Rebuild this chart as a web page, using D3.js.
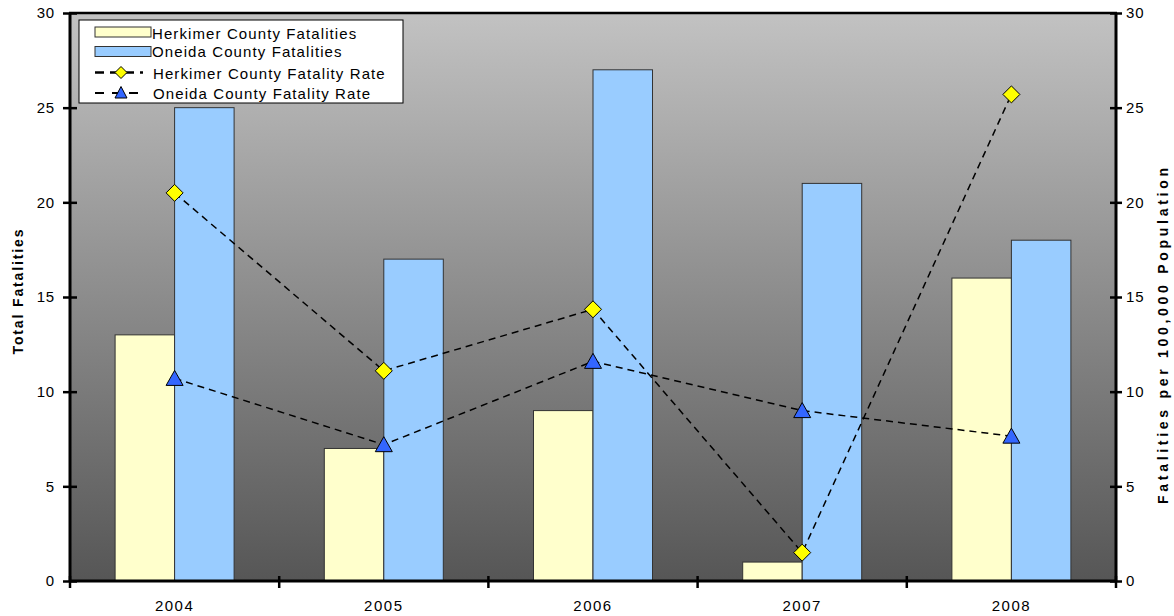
<!DOCTYPE html>
<html><head><meta charset="utf-8">
<script src="https://cdn.jsdelivr.net/npm/d3@7"></script>
<style>body{margin:0;background:#fff;}svg{display:block;font-family:"Liberation Sans",Arial,sans-serif;}</style>
</head><body><svg id="c" width="1174" height="616"></svg>
<script>
const years = ["2004","2005","2006","2007","2008"];
const herkimerFatalities = [13, 7, 9, 1, 16];
const oneidaFatalities = [25, 17, 27, 21, 18];
const herkimerRate = [20.5, 11.1, 14.35, 1.5, 25.7];
const oneidaRate = [10.7, 7.2, 11.6, 9.0, 7.65];
const yTicks = [0, 5, 10, 15, 20, 25, 30];
const seriesNames = ["Herkimer County Fatalities","Oneida County Fatalities","Herkimer County Fatality Rate","Oneida County Fatality Rate"];

const svg = d3.select("#c");
const L = 70, R = 1116, T = 13, B = 581;
const x = d3.scaleBand().domain(years).range([L, R]).paddingInner(0).paddingOuter(0);
const bw = 59.5;
const xs = d3.scaleBand().domain(["h","o"]).range([(x.bandwidth()-2*bw)/2, (x.bandwidth()+2*bw)/2]);
const y = d3.scaleLinear().domain([0,30]).range([B, T]);
const y2 = d3.scaleLinear().domain([0,30]).range([B, T]);

const defs = svg.append("defs");
const g = defs.append("linearGradient").attr("id","bg").attr("x1",0).attr("x2",0).attr("y1",0).attr("y2",1);
g.append("stop").attr("offset","0%").attr("stop-color","#c2c2c2");
g.append("stop").attr("offset","100%").attr("stop-color","#565656");
svg.append("rect").attr("x",L).attr("y",T).attr("width",R-L).attr("height",B-T).attr("fill","url(#bg)");

// bars
const bars = svg.append("g");
years.forEach((yr,i)=>{
  bars.append("rect").attr("x",x(yr)+xs("h")).attr("y",y(herkimerFatalities[i])).attr("width",xs.bandwidth()).attr("height",B-y(herkimerFatalities[i]))
    .attr("fill","#ffffcc").attr("stroke","#333").attr("stroke-width",1);
  bars.append("rect").attr("x",x(yr)+xs("o")).attr("y",y(oneidaFatalities[i])).attr("width",xs.bandwidth()).attr("height",B-y(oneidaFatalities[i]))
    .attr("fill","#99ccff").attr("stroke","#333").attr("stroke-width",1);
});

// lines
const cx = yr => x(yr) + x.bandwidth()/2;
const line = d3.line().x(d=>cx(d[0])).y(d=>y2(d[1]));
svg.append("path").datum(years.map((yr,i)=>[yr,oneidaRate[i]])).attr("d",line).attr("fill","none").attr("stroke","#000").attr("stroke-width",1.5).attr("stroke-dasharray","7,5");
svg.append("path").datum(years.map((yr,i)=>[yr,herkimerRate[i]])).attr("d",line).attr("fill","none").attr("stroke","#000").attr("stroke-width",1.5).attr("stroke-dasharray","7,5");

const diamond = (px,py,s) => `M${px},${py-s}L${px+s},${py}L${px},${py+s}L${px-s},${py}Z`;
const tri = (px,py) => `M${px},${py-8}L${px+8.5},${py+7}L${px-8.5},${py+7}Z`;
years.forEach((yr,i)=>{
  svg.append("path").attr("d",diamond(cx(yr),y2(herkimerRate[i]),8.5)).attr("fill","#ffff00").attr("stroke","#000").attr("stroke-width",1);
  svg.append("path").attr("d",tri(cx(yr),y2(oneidaRate[i]))).attr("fill","#3366ff").attr("stroke","#000").attr("stroke-width",1);
});

// axes
const axL = svg.append("g").attr("transform",`translate(${L},0)`).call(d3.axisLeft(y).tickValues(yTicks).tickSize(7).tickSizeOuter(0));
const axR = svg.append("g").attr("transform",`translate(${R},0)`).call(d3.axisRight(y2).tickValues(yTicks).tickSize(6).tickSizeOuter(0));
const axB = svg.append("g").attr("transform",`translate(0,${B})`).call(d3.axisBottom(x).tickSize(0).tickSizeOuter(0));
[axL,axR,axB].forEach(a=>{a.select(".domain").remove();});
axL.selectAll(".tick line").attr("x1",7).attr("x2",-7).attr("stroke","#000").attr("stroke-width",2.5);
axR.selectAll(".tick line").attr("x1",-6).attr("x2",6).attr("stroke","#000").attr("stroke-width",2.5);
axL.selectAll("text").attr("x",-15).attr("font-size",15).attr("letter-spacing",0.8).attr("font-family","Liberation Sans, Arial").attr("fill","#000");
axR.selectAll("text").attr("x",10).attr("font-size",15).attr("letter-spacing",0.8).attr("font-family","Liberation Sans, Arial").attr("fill","#000");
axB.selectAll("text").attr("y",19).attr("font-size",15).attr("letter-spacing",1.5).attr("font-family","Liberation Sans, Arial").attr("fill","#000");
// bottom ticks at band boundaries
svg.append("g").selectAll("line").data(d3.range(years.length+1)).join("line")
  .attr("x1",i=>L+i*x.bandwidth()).attr("x2",i=>L+i*x.bandwidth()).attr("y1",B-5).attr("y2",B+7).attr("stroke","#000").attr("stroke-width",2.5);

// frame lines
svg.append("line").attr("x1",L).attr("x2",L).attr("y1",T).attr("y2",B+1).attr("stroke","#000").attr("stroke-width",3);
svg.append("line").attr("x1",R).attr("x2",R).attr("y1",T).attr("y2",B+1).attr("stroke","#000").attr("stroke-width",3);
svg.append("line").attr("x1",L-1).attr("x2",R+1).attr("y1",B).attr("y2",B).attr("stroke","#000").attr("stroke-width",3);
svg.append("line").attr("x1",L-1).attr("x2",R+1).attr("y1",T).attr("y2",T).attr("stroke","#000").attr("stroke-width",2.5);

// axis titles
svg.append("text").attr("transform","translate(23,292) rotate(-90)").attr("text-anchor","middle")
  .attr("font-size",14).attr("font-weight","bold").attr("textLength",125).attr("lengthAdjust","spacing").text("Total Fatalities");
svg.append("text").attr("transform","translate(1168,336) rotate(-90)").attr("text-anchor","middle")
  .attr("font-size",14).attr("font-weight","bold").attr("textLength",336).attr("lengthAdjust","spacing").text("Fatalities per 100,000 Population");

// legend
const lg = svg.append("g");
lg.append("rect").attr("x",79).attr("y",20).attr("width",324).attr("height",83).attr("fill","#fff").attr("stroke","#000").attr("stroke-width",1);
lg.append("rect").attr("x",95).attr("y",27).attr("width",56).attr("height",10).attr("fill","#ffffcc").attr("stroke","#333");
lg.append("rect").attr("x",95).attr("y",46.5).attr("width",56).attr("height",10).attr("fill","#99ccff").attr("stroke","#333");
lg.append("line").attr("x1",95).attr("x2",143).attr("y1",72.5).attr("y2",72.5).attr("stroke","#000").attr("stroke-width",2.5).attr("stroke-dasharray","9,6");
lg.append("path").attr("d",diamond(121,72.5,6)).attr("fill","#ffff00").attr("stroke","#000");
lg.append("line").attr("x1",95).attr("x2",143).attr("y1",93).attr("y2",93).attr("stroke","#000").attr("stroke-width",2).attr("stroke-dasharray","9,8");
lg.append("path").attr("d",`M121,86.5L127,98L115,98Z`).attr("fill","#3366ff").attr("stroke","#000");
const ly = [39, 57, 79, 99];
const lx = [152, 152, 153, 153];
seriesNames.forEach((s,i)=>{
  lg.append("text").attr("x",lx[i]).attr("y",ly[i]).attr("font-size",15).attr("letter-spacing",1.1).text(s);
});
</script></body></html>
